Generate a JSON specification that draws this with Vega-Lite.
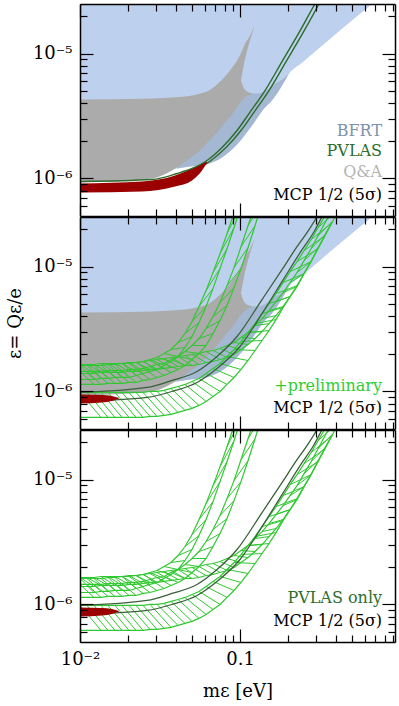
{
"$schema": "https://vega.github.io/schema/vega-lite/v6.json",
"padding": {"left": 6, "top": 3, "right": 5, "bottom": 0},
"spacing": -3,
"config": {"view": {"stroke": null}, "font": "DejaVu Serif"},
"datasets": {
"frame": [{"m": 0.1, "e": 1e-6}],
"lb": [
{"m":0.01,"lo":1.057e-6},{"m":0.02818,"lo":1.1e-6},{"m":0.04039,"lo":1.202e-6},{"m":0.05012,"lo":1.25e-6},{"m":0.0622,"lo":1.3e-6},{"m":0.07718,"lo":1.472e-6},{"m":0.09578,"lo":1.871e-6},{"m":0.1189,"lo":2.655e-6},{"m":0.1413,"lo":3.631e-6},{"m":0.1753,"lo":5.058e-6},{"m":0.2024,"lo":6.918e-6},{"m":0.2441,"lo":8.47e-6},{"m":0.3255,"lo":1.159e-5},{"m":0.434,"lo":1.585e-5},{"m":0.6683,"lo":2.5e-5}
],
"slate": [
{"m":0.04039,"lo":1.202e-6,"hi":1.675e-6},{"m":0.05012,"lo":1.25e-6,"hi":2.014e-6},{"m":0.0622,"lo":1.3e-6,"hi":2.421e-6},{"m":0.07718,"lo":1.472e-6,"hi":3.499e-6},{"m":0.09578,"lo":1.871e-6,"hi":4.207e-6},{"m":0.1189,"lo":2.655e-6,"hi":4.786e-6},{"m":0.1413,"lo":3.631e-6,"hi":4.966e-6},{"m":0.1585,"lo":4.207e-6,"hi":5.546e-6},{"m":0.1753,"lo":5.058e-6,"hi":6.081e-6},{"m":0.2024,"lo":6.918e-6,"hi":6.918e-6}
],
"gray": [
{"m":0.01,"lo":9.29e-7,"hi":4.285e-6},{"m":0.02818,"lo":1e-6,"hi":4.365e-6},{"m":0.03758,"lo":1.159e-6,"hi":4.446e-6},{"m":0.04531,"lo":1.355e-6,"hi":4.529e-6},{"m":0.05788,"lo":1.738e-6,"hi":4.831e-6},{"m":0.06401,"lo":1.995e-6,"hi":5.058e-6},{"m":0.07181,"lo":2.333e-6,"hi":5.649e-6},{"m":0.08058,"lo":2.805e-6,"hi":6.546e-6},{"m":0.08913,"lo":3.251e-6,"hi":7.727e-6},{"m":0.09578,"lo":3.698e-6,"hi":8.79e-6},{"m":0.1029,"lo":4.207e-6,"hi":1.057e-5},{"m":0.1075,"lo":4.446e-6,"hi":1.202e-5},{"m":0.1155,"lo":4.699e-6,"hi":1.393e-5},{"m":0.1223,"lo":4.786e-6,"hi":1.644e-5}
],
"notch": [
{"m":0.1014,"lo":6.081e-6,"hi":6.081e-6},{"m":0.1059,"lo":5.248e-6,"hi":8.318e-6},{"m":0.1138,"lo":4.875e-6,"hi":1.202e-5},{"m":0.1223,"lo":4.786e-6,"hi":1.644e-5},{"m":0.1296,"lo":4.786e-6,"hi":2.5e-5},{"m":0.1585,"lo":5.546e-6,"hi":2.5e-5},{"m":0.183,"lo":6.194e-6,"hi":2.5e-5},{"m":0.2024,"lo":6.918e-6,"hi":2.5e-5}
],
"red1": [
{"m":0.01,"lo":7.727e-7,"hi":9.12e-7},{"m":0.02441,"lo":7.87e-7,"hi":9.462e-7},{"m":0.03924,"lo":8.63e-7,"hi":1.057e-6},{"m":0.05012,"lo":9.638e-7,"hi":1.202e-6},{"m":0.05788,"lo":1.159e-6,"hi":1.318e-6},{"m":0.0622,"lo":1.343e-6,"hi":1.368e-6}
],
"red2": [
{"m":0.01,"lo":8.017e-7,"hi":9.462e-7},{"m":0.01372,"lo":8.166e-7,"hi":9.376e-7},{"m":0.01585,"lo":8.395e-7,"hi":9.204e-7},{"m":0.01753,"lo":8.79e-7,"hi":8.872e-7}
],
"P": [
{"s":"P1","m":0.01,"e":9.462e-7},{"s":"P1","m":0.02818,"e":9.817e-7},{"s":"P1","m":0.04039,"e":1.096e-6},{"s":"P1","m":0.05012,"e":1.202e-6},{"s":"P1","m":0.0622,"e":1.393e-6},{"s":"P1","m":0.07718,"e":1.77e-6},{"s":"P1","m":0.09578,"e":2.421e-6},{"s":"P1","m":0.1138,"e":3.311e-6},{"s":"P1","m":0.1433,"e":5.058e-6},{"s":"P1","m":0.183,"e":8.63e-6},{"s":"P1","m":0.2337,"e":1.472e-5},{"s":"P1","m":0.2943,"e":2.512e-5},{"s":"P1","m":0.3255,"e":3.133e-5},
{"s":"P2","m":0.01,"e":8.79e-7},{"s":"P2","m":0.02818,"e":9.12e-7},{"s":"P2","m":0.04039,"e":1.019e-6},{"s":"P2","m":0.05386,"e":1.18e-6},{"s":"P2","m":0.06588,"e":1.393e-6},{"s":"P2","m":0.08175,"e":1.77e-6},{"s":"P2","m":0.1014,"e":2.421e-6},{"s":"P2","m":0.1206,"e":3.311e-6},{"s":"P2","m":0.1517,"e":5.058e-6},{"s":"P2","m":0.1939,"e":8.63e-6},{"s":"P2","m":0.2477,"e":1.472e-5},{"s":"P2","m":0.3116,"e":2.512e-5},{"s":"P2","m":0.3398,"e":3.133e-5}
],
"Q": [
{"s":"Q1","m":0.01,"e":9.817e-7},{"s":"Q1","m":0.02623,"e":1.076e-6},{"s":"Q1","m":0.03758,"e":1.225e-6},{"s":"Q1","m":0.05386,"e":1.445e-6},{"s":"Q1","m":0.07181,"e":1.905e-6},{"s":"Q1","m":0.09578,"e":2.754e-6},{"s":"Q1","m":0.1373,"e":5.445e-6},{"s":"Q1","m":0.183,"e":9.462e-6},{"s":"Q1","m":0.2206,"e":1.368e-5},{"s":"Q1","m":0.2699,"e":1.977e-5},{"s":"Q1","m":0.3028,"e":2.512e-5},{"s":"Q1","m":0.335,"e":3.133e-5},
{"s":"Q2","m":0.01,"e":8.318e-7},{"s":"Q2","m":0.02623,"e":8.954e-7},{"s":"Q2","m":0.03758,"e":1e-6},{"s":"Q2","m":0.05386,"e":1.18e-6},{"s":"Q2","m":0.07181,"e":1.528e-6},{"s":"Q2","m":0.1,"e":2.291e-6},{"s":"Q2","m":0.1373,"e":4.207e-6},{"s":"Q2","m":0.183,"e":7.586e-6},{"s":"Q2","m":0.2441,"e":1.368e-5},{"s":"Q2","m":0.2901,"e":1.905e-5},{"s":"Q2","m":0.3255,"e":2.512e-5},{"s":"Q2","m":0.36,"e":3.133e-5}
],
"bands": [
{"b":"A","m":0.01,"lo":1.247e-6,"hi":1.614e-6},{"b":"A","m":0.01106,"lo":1.247e-6,"hi":1.614e-6},{"b":"A","m":0.01223,"lo":1.247e-6,"hi":1.614e-6},{"b":"A","m":0.01353,"lo":1.271e-6,"hi":1.614e-6},{"b":"A","m":0.01496,"lo":1.271e-6,"hi":1.644e-6},{"b":"A","m":0.01654,"lo":1.294e-6,"hi":1.644e-6},{"b":"A","m":0.0183,"lo":1.294e-6,"hi":1.675e-6},{"b":"A","m":0.02024,"lo":1.294e-6,"hi":1.675e-6},{"b":"A","m":0.02239,"lo":1.343e-6,"hi":1.706e-6},{"b":"A","m":0.02477,"lo":1.393e-6,"hi":1.738e-6},{"b":"A","m":0.02738,"lo":1.446e-6,"hi":1.803e-6},{"b":"A","m":0.03028,"lo":1.5e-6,"hi":1.871e-6},{"b":"A","m":0.0335,"lo":1.614e-6,"hi":2.014e-6},{"b":"A","m":0.03705,"lo":1.738e-6,"hi":2.168e-6},{"b":"A","m":0.04097,"lo":1.906e-6,"hi":2.466e-6},{"b":"A","m":0.04531,"lo":2.249e-6,"hi":2.911e-6},{"b":"A","m":0.05012,"lo":2.754e-6,"hi":3.631e-6},{"b":"A","m":0.05543,"lo":3.565e-6,"hi":4.787e-6},{"b":"A","m":0.06131,"lo":4.787e-6,"hi":6.427e-6},{"b":"A","m":0.0678,"lo":6.668e-6,"hi":8.954e-6},{"b":"A","m":0.07499,"lo":9.638e-6,"hi":1.271e-5},{"b":"A","m":0.08293,"lo":1.393e-5,"hi":1.837e-5},{"b":"A","m":0.09173,"lo":2.051e-5,"hi":2.704e-5},{"b":"A","m":0.1014,"lo":3.076e-5,"hi":3.981e-5},
{"b":"B","m":0.01,"lo":1.138e-6,"hi":1.446e-6},{"b":"B","m":0.01106,"lo":1.138e-6,"hi":1.446e-6},{"b":"B","m":0.01223,"lo":1.138e-6,"hi":1.446e-6},{"b":"B","m":0.01353,"lo":1.138e-6,"hi":1.446e-6},{"b":"B","m":0.01496,"lo":1.159e-6,"hi":1.472e-6},{"b":"B","m":0.01654,"lo":1.159e-6,"hi":1.472e-6},{"b":"B","m":0.0183,"lo":1.159e-6,"hi":1.472e-6},{"b":"B","m":0.02024,"lo":1.18e-6,"hi":1.5e-6},{"b":"B","m":0.02239,"lo":1.18e-6,"hi":1.5e-6},{"b":"B","m":0.02477,"lo":1.225e-6,"hi":1.528e-6},{"b":"B","m":0.02738,"lo":1.247e-6,"hi":1.585e-6},{"b":"B","m":0.03028,"lo":1.294e-6,"hi":1.644e-6},{"b":"B","m":0.0335,"lo":1.343e-6,"hi":1.675e-6},{"b":"B","m":0.03705,"lo":1.419e-6,"hi":1.803e-6},{"b":"B","m":0.04097,"lo":1.5e-6,"hi":1.906e-6},{"b":"B","m":0.04531,"lo":1.614e-6,"hi":2.089e-6},{"b":"B","m":0.05012,"lo":1.803e-6,"hi":2.334e-6},{"b":"B","m":0.05543,"lo":2.014e-6,"hi":2.655e-6},{"b":"B","m":0.06131,"lo":2.334e-6,"hi":3.192e-6},{"b":"B","m":0.0678,"lo":2.911e-6,"hi":3.981e-6},{"b":"B","m":0.07499,"lo":3.698e-6,"hi":5.153e-6},{"b":"B","m":0.08293,"lo":4.876e-6,"hi":7.047e-6},{"b":"B","m":0.09173,"lo":6.792e-6,"hi":9.817e-6},{"b":"B","m":0.1014,"lo":9.638e-6,"hi":1.445e-5},{"b":"B","m":0.1122,"lo":1.419e-5,"hi":2.128e-5},{"b":"B","m":0.1241,"lo":2.128e-5,"hi":3.133e-5},{"b":"B","m":0.1373,"lo":3.251e-5,"hi":4.614e-5},
{"b":"C","m":0.01,"lo":6.195e-7,"hi":9.817e-7},{"b":"C","m":0.01106,"lo":6.195e-7,"hi":9.817e-7},{"b":"C","m":0.01223,"lo":6.195e-7,"hi":9.817e-7},{"b":"C","m":0.01353,"lo":6.195e-7,"hi":9.817e-7},{"b":"C","m":0.01496,"lo":6.195e-7,"hi":9.817e-7},{"b":"C","m":0.01654,"lo":6.195e-7,"hi":9.817e-7},{"b":"C","m":0.0183,"lo":6.195e-7,"hi":9.817e-7},{"b":"C","m":0.02024,"lo":6.195e-7,"hi":9.817e-7},{"b":"C","m":0.02239,"lo":6.195e-7,"hi":9.817e-7},{"b":"C","m":0.02477,"lo":6.195e-7,"hi":9.817e-7},{"b":"C","m":0.02738,"lo":6.31e-7,"hi":1e-6},{"b":"C","m":0.03028,"lo":6.31e-7,"hi":1e-6},{"b":"C","m":0.0335,"lo":6.427e-7,"hi":1.019e-6},{"b":"C","m":0.03705,"lo":6.546e-7,"hi":1.057e-6},{"b":"C","m":0.04097,"lo":6.792e-7,"hi":1.096e-6},{"b":"C","m":0.04531,"lo":7.047e-7,"hi":1.138e-6},{"b":"C","m":0.05012,"lo":7.311e-7,"hi":1.202e-6},{"b":"C","m":0.05543,"lo":7.727e-7,"hi":1.271e-6},{"b":"C","m":0.06131,"lo":8.318e-7,"hi":1.393e-6},{"b":"C","m":0.0678,"lo":9.12e-7,"hi":1.528e-6},{"b":"C","m":0.07499,"lo":1e-6,"hi":1.675e-6},{"b":"C","m":0.08293,"lo":1.138e-6,"hi":1.906e-6},{"b":"C","m":0.09173,"lo":1.294e-6,"hi":2.168e-6},{"b":"C","m":0.1014,"lo":1.5e-6,"hi":2.512e-6},{"b":"C","m":0.1122,"lo":1.77e-6,"hi":2.965e-6},{"b":"C","m":0.1241,"lo":2.128e-6,"hi":3.499e-6},{"b":"C","m":0.1373,"lo":2.559e-6,"hi":4.207e-6},{"b":"C","m":0.1517,"lo":3.076e-6,"hi":5.059e-6},{"b":"C","m":0.1679,"lo":3.767e-6,"hi":6.082e-6},{"b":"C","m":0.1857,"lo":4.699e-6,"hi":7.447e-6},{"b":"C","m":0.2054,"lo":5.755e-6,"hi":9.12e-6},{"b":"C","m":0.2271,"lo":7.047e-6,"hi":1.097e-5},{"b":"C","m":0.2512,"lo":8.79e-6,"hi":1.343e-5},{"b":"C","m":0.2778,"lo":1.097e-5,"hi":1.644e-5},{"b":"C","m":0.3073,"lo":1.393e-5,"hi":2.051e-5},{"b":"C","m":0.3398,"lo":1.77e-5,"hi":2.559e-5},{"b":"C","m":0.3758,"lo":2.249e-5,"hi":3.191e-5},{"b":"C","m":0.4156,"lo":2.911e-5,"hi":3.981e-5},
{"b":"D","m":0.01,"lo":1.393e-6,"hi":1.644e-6},{"b":"D","m":0.01106,"lo":1.393e-6,"hi":1.644e-6},{"b":"D","m":0.01223,"lo":1.393e-6,"hi":1.644e-6},{"b":"D","m":0.01353,"lo":1.419e-6,"hi":1.675e-6},{"b":"D","m":0.01496,"lo":1.419e-6,"hi":1.675e-6},{"b":"D","m":0.01654,"lo":1.419e-6,"hi":1.675e-6},{"b":"D","m":0.0183,"lo":1.419e-6,"hi":1.675e-6},{"b":"D","m":0.02024,"lo":1.446e-6,"hi":1.706e-6},{"b":"D","m":0.02239,"lo":1.446e-6,"hi":1.706e-6},{"b":"D","m":0.02477,"lo":1.472e-6,"hi":1.738e-6},{"b":"D","m":0.02738,"lo":1.5e-6,"hi":1.77e-6},{"b":"D","m":0.03028,"lo":1.5e-6,"hi":1.803e-6},{"b":"D","m":0.0335,"lo":1.528e-6,"hi":1.837e-6},{"b":"D","m":0.03705,"lo":1.556e-6,"hi":1.871e-6},{"b":"D","m":0.04097,"lo":1.585e-6,"hi":1.906e-6},{"b":"D","m":0.04531,"lo":1.614e-6,"hi":1.941e-6},{"b":"D","m":0.05012,"lo":1.614e-6,"hi":1.977e-6},{"b":"D","m":0.05543,"lo":1.644e-6,"hi":2.014e-6},{"b":"D","m":0.06131,"lo":1.706e-6,"hi":2.089e-6},{"b":"D","m":0.0678,"lo":1.738e-6,"hi":2.128e-6},{"b":"D","m":0.07499,"lo":1.803e-6,"hi":2.208e-6},{"b":"D","m":0.08293,"lo":1.871e-6,"hi":2.334e-6},{"b":"D","m":0.09173,"lo":1.977e-6,"hi":2.466e-6},{"b":"D","m":0.1014,"lo":2.168e-6,"hi":2.704e-6},{"b":"D","m":0.1122,"lo":2.377e-6,"hi":2.965e-6},{"b":"D","m":0.1241,"lo":2.655e-6,"hi":3.373e-6},{"b":"D","m":0.1373,"lo":3.02e-6,"hi":3.837e-6},{"b":"D","m":0.1517,"lo":3.499e-6,"hi":4.447e-6},{"b":"D","m":0.1679,"lo":4.055e-6,"hi":5.249e-6},{"b":"D","m":0.1857,"lo":4.787e-6,"hi":6.195e-6},{"b":"D","m":0.2054,"lo":5.755e-6,"hi":7.447e-6},{"b":"D","m":0.2271,"lo":6.918e-6,"hi":8.954e-6},{"b":"D","m":0.2512,"lo":8.79e-6,"hi":1.117e-5},{"b":"D","m":0.2778,"lo":1.097e-5,"hi":1.393e-5},{"b":"D","m":0.3073,"lo":1.419e-5,"hi":1.77e-5},{"b":"D","m":0.3398,"lo":1.803e-5,"hi":2.249e-5},{"b":"D","m":0.3758,"lo":2.291e-5,"hi":2.858e-5}
],
"hatch": [
{"b":"A","m":0.01,"e":1.614e-6,"m2":0.01223,"e2":1.247e-6},{"b":"A","m":0.01106,"e":1.614e-6,"m2":0.01353,"e2":1.271e-6},{"b":"A","m":0.01223,"e":1.614e-6,"m2":0.01496,"e2":1.271e-6},{"b":"A","m":0.01353,"e":1.614e-6,"m2":0.01654,"e2":1.294e-6},{"b":"A","m":0.01496,"e":1.644e-6,"m2":0.0183,"e2":1.294e-6},{"b":"A","m":0.01654,"e":1.644e-6,"m2":0.02024,"e2":1.294e-6},{"b":"A","m":0.0183,"e":1.675e-6,"m2":0.02239,"e2":1.343e-6},{"b":"A","m":0.02024,"e":1.675e-6,"m2":0.02477,"e2":1.393e-6},{"b":"A","m":0.02239,"e":1.706e-6,"m2":0.02738,"e2":1.446e-6},{"b":"A","m":0.02477,"e":1.738e-6,"m2":0.03028,"e2":1.5e-6},{"b":"A","m":0.02738,"e":1.803e-6,"m2":0.0335,"e2":1.614e-6},{"b":"A","m":0.03028,"e":1.871e-6,"m2":0.03705,"e2":1.738e-6},{"b":"A","m":0.0335,"e":2.014e-6,"m2":0.04097,"e2":1.906e-6},{"b":"A","m":0.03705,"e":2.168e-6,"m2":0.04531,"e2":2.249e-6},{"b":"A","m":0.04097,"e":2.466e-6,"m2":0.05012,"e2":2.754e-6},{"b":"A","m":0.04531,"e":2.911e-6,"m2":0.05543,"e2":3.565e-6},{"b":"A","m":0.05012,"e":3.631e-6,"m2":0.06131,"e2":4.787e-6},{"b":"A","m":0.05543,"e":4.787e-6,"m2":0.0678,"e2":6.668e-6},{"b":"A","m":0.06131,"e":6.427e-6,"m2":0.07499,"e2":9.638e-6},{"b":"A","m":0.0678,"e":8.954e-6,"m2":0.08293,"e2":1.393e-5},{"b":"A","m":0.07499,"e":1.271e-5,"m2":0.09173,"e2":2.051e-5},{"b":"A","m":0.08293,"e":1.837e-5,"m2":0.1014,"e2":3.076e-5},
{"b":"B","m":0.01,"e":1.446e-6,"m2":0.01223,"e2":1.138e-6},{"b":"B","m":0.01106,"e":1.446e-6,"m2":0.01353,"e2":1.138e-6},{"b":"B","m":0.01223,"e":1.446e-6,"m2":0.01496,"e2":1.159e-6},{"b":"B","m":0.01353,"e":1.446e-6,"m2":0.01654,"e2":1.159e-6},{"b":"B","m":0.01496,"e":1.472e-6,"m2":0.0183,"e2":1.159e-6},{"b":"B","m":0.01654,"e":1.472e-6,"m2":0.02024,"e2":1.18e-6},{"b":"B","m":0.0183,"e":1.472e-6,"m2":0.02239,"e2":1.18e-6},{"b":"B","m":0.02024,"e":1.5e-6,"m2":0.02477,"e2":1.225e-6},{"b":"B","m":0.02239,"e":1.5e-6,"m2":0.02738,"e2":1.247e-6},{"b":"B","m":0.02477,"e":1.528e-6,"m2":0.03028,"e2":1.294e-6},{"b":"B","m":0.02738,"e":1.585e-6,"m2":0.0335,"e2":1.343e-6},{"b":"B","m":0.03028,"e":1.644e-6,"m2":0.03705,"e2":1.419e-6},{"b":"B","m":0.0335,"e":1.675e-6,"m2":0.04097,"e2":1.5e-6},{"b":"B","m":0.03705,"e":1.803e-6,"m2":0.04531,"e2":1.614e-6},{"b":"B","m":0.04097,"e":1.906e-6,"m2":0.05012,"e2":1.803e-6},{"b":"B","m":0.04531,"e":2.089e-6,"m2":0.05543,"e2":2.014e-6},{"b":"B","m":0.05012,"e":2.334e-6,"m2":0.06131,"e2":2.334e-6},{"b":"B","m":0.05543,"e":2.655e-6,"m2":0.0678,"e2":2.911e-6},{"b":"B","m":0.06131,"e":3.192e-6,"m2":0.07499,"e2":3.698e-6},{"b":"B","m":0.0678,"e":3.981e-6,"m2":0.08293,"e2":4.876e-6},{"b":"B","m":0.07499,"e":5.153e-6,"m2":0.09173,"e2":6.792e-6},{"b":"B","m":0.08293,"e":7.047e-6,"m2":0.1014,"e2":9.638e-6},{"b":"B","m":0.09173,"e":9.817e-6,"m2":0.1122,"e2":1.419e-5},{"b":"B","m":0.1014,"e":1.445e-5,"m2":0.1241,"e2":2.128e-5},{"b":"B","m":0.1122,"e":2.128e-5,"m2":0.1373,"e2":3.251e-5},
{"b":"C","m":0.01,"e":9.817e-7,"m2":0.01353,"e2":6.195e-7},{"b":"C","m":0.01106,"e":9.817e-7,"m2":0.01496,"e2":6.195e-7},{"b":"C","m":0.01223,"e":9.817e-7,"m2":0.01654,"e2":6.195e-7},{"b":"C","m":0.01353,"e":9.817e-7,"m2":0.0183,"e2":6.195e-7},{"b":"C","m":0.01496,"e":9.817e-7,"m2":0.02024,"e2":6.195e-7},{"b":"C","m":0.01654,"e":9.817e-7,"m2":0.02239,"e2":6.195e-7},{"b":"C","m":0.0183,"e":9.817e-7,"m2":0.02477,"e2":6.195e-7},{"b":"C","m":0.02024,"e":9.817e-7,"m2":0.02738,"e2":6.31e-7},{"b":"C","m":0.02239,"e":9.817e-7,"m2":0.03028,"e2":6.31e-7},{"b":"C","m":0.02477,"e":9.817e-7,"m2":0.0335,"e2":6.427e-7},{"b":"C","m":0.02738,"e":1e-6,"m2":0.03705,"e2":6.546e-7},{"b":"C","m":0.03028,"e":1e-6,"m2":0.04097,"e2":6.792e-7},{"b":"C","m":0.0335,"e":1.019e-6,"m2":0.04531,"e2":7.047e-7},{"b":"C","m":0.03705,"e":1.057e-6,"m2":0.05012,"e2":7.311e-7},{"b":"C","m":0.04097,"e":1.096e-6,"m2":0.05543,"e2":7.727e-7},{"b":"C","m":0.04531,"e":1.138e-6,"m2":0.06131,"e2":8.318e-7},{"b":"C","m":0.05012,"e":1.202e-6,"m2":0.0678,"e2":9.12e-7},{"b":"C","m":0.05543,"e":1.271e-6,"m2":0.07499,"e2":1e-6},{"b":"C","m":0.06131,"e":1.393e-6,"m2":0.08293,"e2":1.138e-6},{"b":"C","m":0.0678,"e":1.528e-6,"m2":0.09173,"e2":1.294e-6},{"b":"C","m":0.07499,"e":1.675e-6,"m2":0.1014,"e2":1.5e-6},{"b":"C","m":0.08293,"e":1.906e-6,"m2":0.1122,"e2":1.77e-6},{"b":"C","m":0.09173,"e":2.168e-6,"m2":0.1241,"e2":2.128e-6},{"b":"C","m":0.1014,"e":2.512e-6,"m2":0.1373,"e2":2.559e-6},{"b":"C","m":0.1122,"e":2.965e-6,"m2":0.1517,"e2":3.076e-6},{"b":"C","m":0.1241,"e":3.499e-6,"m2":0.1679,"e2":3.767e-6},{"b":"C","m":0.1373,"e":4.207e-6,"m2":0.1857,"e2":4.699e-6},{"b":"C","m":0.1517,"e":5.059e-6,"m2":0.2054,"e2":5.755e-6},{"b":"C","m":0.1679,"e":6.082e-6,"m2":0.2271,"e2":7.047e-6},{"b":"C","m":0.1857,"e":7.447e-6,"m2":0.2512,"e2":8.79e-6},{"b":"C","m":0.2054,"e":9.12e-6,"m2":0.2778,"e2":1.097e-5},{"b":"C","m":0.2271,"e":1.097e-5,"m2":0.3073,"e2":1.393e-5},{"b":"C","m":0.2512,"e":1.343e-5,"m2":0.3398,"e2":1.77e-5},{"b":"C","m":0.2778,"e":1.644e-5,"m2":0.3758,"e2":2.249e-5},{"b":"C","m":0.3073,"e":2.051e-5,"m2":0.4156,"e2":2.911e-5},
{"b":"D","m":0.01,"e":1.644e-6,"m2":0.01223,"e2":1.393e-6},{"b":"D","m":0.01106,"e":1.644e-6,"m2":0.01353,"e2":1.419e-6},{"b":"D","m":0.01223,"e":1.644e-6,"m2":0.01496,"e2":1.419e-6},{"b":"D","m":0.01353,"e":1.675e-6,"m2":0.01654,"e2":1.419e-6},{"b":"D","m":0.01496,"e":1.675e-6,"m2":0.0183,"e2":1.419e-6},{"b":"D","m":0.01654,"e":1.675e-6,"m2":0.02024,"e2":1.446e-6},{"b":"D","m":0.0183,"e":1.675e-6,"m2":0.02239,"e2":1.446e-6},{"b":"D","m":0.02024,"e":1.706e-6,"m2":0.02477,"e2":1.472e-6},{"b":"D","m":0.02239,"e":1.706e-6,"m2":0.02738,"e2":1.5e-6},{"b":"D","m":0.02477,"e":1.738e-6,"m2":0.03028,"e2":1.5e-6},{"b":"D","m":0.02738,"e":1.77e-6,"m2":0.0335,"e2":1.528e-6},{"b":"D","m":0.03028,"e":1.803e-6,"m2":0.03705,"e2":1.556e-6},{"b":"D","m":0.0335,"e":1.837e-6,"m2":0.04097,"e2":1.585e-6},{"b":"D","m":0.03705,"e":1.871e-6,"m2":0.04531,"e2":1.614e-6},{"b":"D","m":0.04097,"e":1.906e-6,"m2":0.05012,"e2":1.614e-6},{"b":"D","m":0.04531,"e":1.941e-6,"m2":0.05543,"e2":1.644e-6},{"b":"D","m":0.05012,"e":1.977e-6,"m2":0.06131,"e2":1.706e-6},{"b":"D","m":0.05543,"e":2.014e-6,"m2":0.0678,"e2":1.738e-6},{"b":"D","m":0.06131,"e":2.089e-6,"m2":0.07499,"e2":1.803e-6},{"b":"D","m":0.0678,"e":2.128e-6,"m2":0.08293,"e2":1.871e-6},{"b":"D","m":0.07499,"e":2.208e-6,"m2":0.09173,"e2":1.977e-6},{"b":"D","m":0.08293,"e":2.334e-6,"m2":0.1014,"e2":2.168e-6},{"b":"D","m":0.09173,"e":2.466e-6,"m2":0.1122,"e2":2.377e-6},{"b":"D","m":0.1014,"e":2.704e-6,"m2":0.1241,"e2":2.655e-6},{"b":"D","m":0.1122,"e":2.965e-6,"m2":0.1373,"e2":3.02e-6},{"b":"D","m":0.1241,"e":3.373e-6,"m2":0.1517,"e2":3.499e-6},{"b":"D","m":0.1373,"e":3.837e-6,"m2":0.1679,"e2":4.055e-6},{"b":"D","m":0.1517,"e":4.447e-6,"m2":0.1857,"e2":4.787e-6},{"b":"D","m":0.1679,"e":5.249e-6,"m2":0.2054,"e2":5.755e-6},{"b":"D","m":0.1857,"e":6.195e-6,"m2":0.2271,"e2":6.918e-6},{"b":"D","m":0.2054,"e":7.447e-6,"m2":0.2512,"e2":8.79e-6},{"b":"D","m":0.2271,"e":8.954e-6,"m2":0.2778,"e2":1.097e-5},{"b":"D","m":0.2512,"e":1.117e-5,"m2":0.3073,"e2":1.419e-5},{"b":"D","m":0.2778,"e":1.393e-5,"m2":0.3398,"e2":1.803e-5},{"b":"D","m":0.3073,"e":1.77e-5,"m2":0.3758,"e2":2.291e-5}
],
"t1": [{"label":"BFRT","m":0.772,"e":2.421e-6},{"label":"PVLAS","m":0.772,"e":1.644e-6},{"label":"Q&A","m":0.772,"e":1.117e-6},{"label":"MCP 1/2 (5σ)","m":0.772,"e":7.31e-7}],
"t2": [{"label":"+preliminary","m":0.772,"e":1.096e-6},{"label":"MCP 1/2 (5σ)","m":0.772,"e":7.31e-7}],
"t3": [{"label":"PVLAS only","m":0.772,"e":1.117e-6},{"label":"MCP 1/2 (5σ)","m":0.772,"e":7.31e-7}]
},
"vconcat": [
{
"width": 315, "height": 212,
"resolve": {"axis": {"x": "independent", "y": "independent"}},
"encoding": {"x": {"field": "m", "type": "quantitative", "scale": {"type": "log", "domain": [0.01, 0.93], "nice": false}, "axis": null}},
"layer": [
{"data": {"name": "lb"}, "mark": {"type": "area", "color": "#bdd1ee", "clip": true, "interpolate": "monotone"}, "encoding": {"y": {"field": "lo", "type": "quantitative", "scale": {"type": "log", "domain": [5e-7, 2.5e-5], "nice": false}, "axis": null}, "y2": {"datum": 2.5e-5}}},
{"data": {"name": "slate"}, "mark": {"type": "area", "color": "#a5b8d3", "clip": true, "interpolate": "monotone"}, "encoding": {"y": {"field": "lo", "type": "quantitative", "scale": {"type": "log", "domain": [5e-7, 2.5e-5], "nice": false}, "axis": null}, "y2": {"field": "hi"}}},
{"data": {"name": "gray"}, "mark": {"type": "area", "color": "#ababab", "clip": true, "interpolate": "monotone"}, "encoding": {"y": {"field": "lo", "type": "quantitative", "scale": {"type": "log", "domain": [5e-7, 2.5e-5], "nice": false}, "axis": null}, "y2": {"field": "hi"}}},
{"data": {"name": "notch"}, "mark": {"type": "area", "color": "#bdd1ee", "clip": true, "interpolate": "monotone"}, "encoding": {"y": {"field": "lo", "type": "quantitative", "scale": {"type": "log", "domain": [5e-7, 2.5e-5], "nice": false}, "axis": null}, "y2": {"field": "hi"}}},
{"data": {"name": "P"}, "transform": [{"filter": "datum.s == 'P2'"}], "mark": {"type": "line", "color": "#2b6b2b", "strokeWidth": 1.4, "clip": true, "interpolate": "monotone"}, "encoding": {"y": {"field": "e", "type": "quantitative", "scale": {"type": "log", "domain": [5e-7, 2.5e-5], "nice": false}, "axis": null}}},
{"data": {"name": "red1"}, "mark": {"type": "area", "color": "#9b0000", "clip": true, "interpolate": "monotone"}, "encoding": {"y": {"field": "lo", "type": "quantitative", "scale": {"type": "log", "domain": [5e-7, 2.5e-5], "nice": false}, "axis": null}, "y2": {"field": "hi"}}},
{"data": {"name": "P"}, "transform": [{"filter": "datum.s == 'P1'"}], "mark": {"type": "line", "color": "#2b6b2b", "strokeWidth": 1.4, "clip": true, "interpolate": "monotone"}, "encoding": {"y": {"field": "e", "type": "quantitative", "scale": {"type": "log", "domain": [5e-7, 2.5e-5], "nice": false}, "axis": null}}},
{"data": {"name": "t1"}, "mark": {"type": "text", "align": "right", "baseline": "middle", "font": "DejaVu Serif", "fontSize": 16}, "encoding": {"y": {"field": "e", "type": "quantitative", "scale": {"type": "log", "domain": [5e-7, 2.5e-5], "nice": false}, "axis": null}, "text": {"field": "label"}, "color": {"field": "label", "type": "nominal", "scale": {"domain": ["BFRT", "PVLAS", "Q&A", "MCP 1/2 (5σ)", "+preliminary", "PVLAS only"], "range": ["#7d91ad", "#2e6e2e", "#b4b4b4", "#000000", "#33cc33", "#2e6e2e"]}, "legend": null}}},
{"data": {"name": "frame"}, "mark": {"type": "point", "opacity": 0}, "encoding": {
"x": {"field": "m", "type": "quantitative", "scale": {"type": "log", "domain": [0.01, 0.93], "nice": false}, "axis": {"orient": "bottom", "values": [0.01,0.02,0.03,0.04,0.05,0.06,0.07,0.08,0.09,0.1,0.2,0.3,0.4,0.5,0.6,0.7,0.8,0.9], "labels": false, "title": null, "grid": false, "tickSize": {"condition": {"test": "datum.value == 0.01 || datum.value == 0.1", "value": -13}, "value": -7}, "domainColor": "#000", "domainWidth": 1.5, "tickColor": "#000", "tickWidth": 1.2, "zindex": 3}},
"y": {"field": "e", "type": "quantitative", "scale": {"type": "log", "domain": [5e-7, 2.5e-5], "nice": false}, "axis": {"orient": "left", "values": [6e-7,7e-7,8e-7,9e-7,1e-6,2e-6,3e-6,4e-6,5e-6,6e-6,7e-6,8e-6,9e-6,1e-5,2e-5], "labelExpr": "datum.value == 1e-5 ? '10⁻⁵' : datum.value == 1e-6 ? '10⁻⁶' : ''", "labelPadding": 21, "labelFont": "DejaVu Serif", "labelFontSize": 18, "labelColor": "#000", "labelOverlap": false, "labelBound": false, "labelFlush": false, "title": null, "grid": false, "tickSize": {"condition": {"test": "datum.value == 1e-6 || datum.value == 1e-5", "value": -13}, "value": -7}, "domainColor": "#000", "domainWidth": 1.5, "tickColor": "#000", "tickWidth": 1.2, "zindex": 3}}}},
{"data": {"name": "frame"}, "mark": {"type": "point", "opacity": 0}, "encoding": {
"x": {"field": "m", "type": "quantitative", "scale": {"type": "log", "domain": [0.01, 0.93], "nice": false}, "axis": {"orient": "top", "values": [0.01,0.02,0.03,0.04,0.05,0.06,0.07,0.08,0.09,0.1,0.2,0.3,0.4,0.5,0.6,0.7,0.8,0.9], "labels": false, "title": null, "grid": false, "tickSize": {"condition": {"test": "datum.value == 0.01 || datum.value == 0.1", "value": -13}, "value": -7}, "domainColor": "#000", "domainWidth": 1.5, "tickColor": "#000", "tickWidth": 1.2, "zindex": 3}},
"y": {"field": "e", "type": "quantitative", "scale": {"type": "log", "domain": [5e-7, 2.5e-5], "nice": false}, "axis": {"orient": "right", "values": [6e-7,7e-7,8e-7,9e-7,1e-6,2e-6,3e-6,4e-6,5e-6,6e-6,7e-6,8e-6,9e-6,1e-5,2e-5], "labels": false, "title": null, "grid": false, "tickSize": {"condition": {"test": "datum.value == 1e-6 || datum.value == 1e-5", "value": -13}, "value": -7}, "domainColor": "#000", "domainWidth": 1.5, "tickColor": "#000", "tickWidth": 1.2, "zindex": 3}}}}
]
},
{
"width": 315, "height": 212,
"resolve": {"axis": {"x": "independent", "y": "independent"}},
"encoding": {"x": {"field": "m", "type": "quantitative", "scale": {"type": "log", "domain": [0.01, 0.93], "nice": false}, "axis": null}},
"layer": [
{"data": {"name": "lb"}, "mark": {"type": "area", "color": "#bdd1ee", "clip": true, "interpolate": "monotone"}, "encoding": {"y": {"field": "lo", "type": "quantitative", "scale": {"type": "log", "domain": [5e-7, 2.5e-5], "nice": false}, "axis": null}, "y2": {"datum": 2.5e-5}}},
{"data": {"name": "slate"}, "mark": {"type": "area", "color": "#a5b8d3", "clip": true, "interpolate": "monotone"}, "encoding": {"y": {"field": "lo", "type": "quantitative", "scale": {"type": "log", "domain": [5e-7, 2.5e-5], "nice": false}, "axis": null}, "y2": {"field": "hi"}}},
{"data": {"name": "gray"}, "mark": {"type": "area", "color": "#ababab", "clip": true, "interpolate": "monotone"}, "encoding": {"y": {"field": "lo", "type": "quantitative", "scale": {"type": "log", "domain": [5e-7, 2.5e-5], "nice": false}, "axis": null}, "y2": {"field": "hi"}}},
{"data": {"name": "notch"}, "mark": {"type": "area", "color": "#bdd1ee", "clip": true, "interpolate": "monotone"}, "encoding": {"y": {"field": "lo", "type": "quantitative", "scale": {"type": "log", "domain": [5e-7, 2.5e-5], "nice": false}, "axis": null}, "y2": {"field": "hi"}}},
{"data": {"name": "hatch"}, "mark": {"type": "rule", "color": "#30c830", "strokeWidth": 1, "clip": true}, "encoding": {"x2": {"field": "m2"}, "y": {"field": "e", "type": "quantitative", "scale": {"type": "log", "domain": [5e-7, 2.5e-5], "nice": false}, "axis": null}, "y2": {"field": "e2"}}},
{"data": {"name": "bands"}, "mark": {"type": "line", "color": "#30c830", "strokeWidth": 1.2, "clip": true}, "encoding": {"detail": {"field": "b"}, "y": {"field": "hi", "type": "quantitative", "scale": {"type": "log", "domain": [5e-7, 2.5e-5], "nice": false}, "axis": null}}},
{"data": {"name": "bands"}, "mark": {"type": "line", "color": "#30c830", "strokeWidth": 1.2, "clip": true}, "encoding": {"detail": {"field": "b"}, "y": {"field": "lo", "type": "quantitative", "scale": {"type": "log", "domain": [5e-7, 2.5e-5], "nice": false}, "axis": null}}},
{"data": {"name": "Q"}, "mark": {"type": "line", "color": "#3a603a", "strokeWidth": 1.3, "clip": true, "interpolate": "monotone"}, "encoding": {"detail": {"field": "s"}, "y": {"field": "e", "type": "quantitative", "scale": {"type": "log", "domain": [5e-7, 2.5e-5], "nice": false}, "axis": null}}},
{"data": {"name": "red2"}, "mark": {"type": "area", "color": "#9b0000", "clip": true, "interpolate": "monotone"}, "encoding": {"y": {"field": "lo", "type": "quantitative", "scale": {"type": "log", "domain": [5e-7, 2.5e-5], "nice": false}, "axis": null}, "y2": {"field": "hi"}}},
{"data": {"name": "t2"}, "mark": {"type": "text", "align": "right", "baseline": "middle", "font": "DejaVu Serif", "fontSize": 16}, "encoding": {"y": {"field": "e", "type": "quantitative", "scale": {"type": "log", "domain": [5e-7, 2.5e-5], "nice": false}, "axis": null}, "text": {"field": "label"}, "color": {"field": "label", "type": "nominal", "scale": {"domain": ["BFRT", "PVLAS", "Q&A", "MCP 1/2 (5σ)", "+preliminary", "PVLAS only"], "range": ["#7d91ad", "#2e6e2e", "#b4b4b4", "#000000", "#33cc33", "#2e6e2e"]}, "legend": null}}},
{"data": {"name": "frame"}, "mark": {"type": "point", "opacity": 0}, "encoding": {
"x": {"field": "m", "type": "quantitative", "scale": {"type": "log", "domain": [0.01, 0.93], "nice": false}, "axis": {"orient": "bottom", "values": [0.01,0.02,0.03,0.04,0.05,0.06,0.07,0.08,0.09,0.1,0.2,0.3,0.4,0.5,0.6,0.7,0.8,0.9], "labels": false, "title": null, "grid": false, "tickSize": {"condition": {"test": "datum.value == 0.01 || datum.value == 0.1", "value": -13}, "value": -7}, "domainColor": "#000", "domainWidth": 1.5, "tickColor": "#000", "tickWidth": 1.2, "zindex": 3}},
"y": {"field": "e", "type": "quantitative", "scale": {"type": "log", "domain": [5e-7, 2.5e-5], "nice": false}, "axis": {"orient": "left", "values": [6e-7,7e-7,8e-7,9e-7,1e-6,2e-6,3e-6,4e-6,5e-6,6e-6,7e-6,8e-6,9e-6,1e-5,2e-5], "labelExpr": "datum.value == 1e-5 ? '10⁻⁵' : datum.value == 1e-6 ? '10⁻⁶' : ''", "labelPadding": 21, "labelFont": "DejaVu Serif", "labelFontSize": 18, "labelColor": "#000", "labelOverlap": false, "labelBound": false, "labelFlush": false, "title": "ε= Qε/e", "titleFont": "DejaVu Serif", "titleFontSize": 18, "titleFontWeight": "normal", "titleColor": "#000", "titlePadding": 8, "grid": false, "tickSize": {"condition": {"test": "datum.value == 1e-6 || datum.value == 1e-5", "value": -13}, "value": -7}, "domainColor": "#000", "domainWidth": 1.5, "tickColor": "#000", "tickWidth": 1.2, "zindex": 3}}}},
{"data": {"name": "frame"}, "mark": {"type": "point", "opacity": 0}, "encoding": {
"x": {"field": "m", "type": "quantitative", "scale": {"type": "log", "domain": [0.01, 0.93], "nice": false}, "axis": {"orient": "top", "values": [0.01,0.02,0.03,0.04,0.05,0.06,0.07,0.08,0.09,0.1,0.2,0.3,0.4,0.5,0.6,0.7,0.8,0.9], "labels": false, "title": null, "grid": false, "tickSize": {"condition": {"test": "datum.value == 0.01 || datum.value == 0.1", "value": -13}, "value": -7}, "domainColor": "#000", "domainWidth": 1.5, "tickColor": "#000", "tickWidth": 1.2, "zindex": 3}},
"y": {"field": "e", "type": "quantitative", "scale": {"type": "log", "domain": [5e-7, 2.5e-5], "nice": false}, "axis": {"orient": "right", "values": [6e-7,7e-7,8e-7,9e-7,1e-6,2e-6,3e-6,4e-6,5e-6,6e-6,7e-6,8e-6,9e-6,1e-5,2e-5], "labels": false, "title": null, "grid": false, "tickSize": {"condition": {"test": "datum.value == 1e-6 || datum.value == 1e-5", "value": -13}, "value": -7}, "domainColor": "#000", "domainWidth": 1.5, "tickColor": "#000", "tickWidth": 1.2, "zindex": 3}}}}
]
},
{
"width": 315, "height": 212,
"resolve": {"axis": {"x": "independent", "y": "independent"}},
"encoding": {"x": {"field": "m", "type": "quantitative", "scale": {"type": "log", "domain": [0.01, 0.93], "nice": false}, "axis": null}},
"layer": [
{"data": {"name": "hatch"}, "mark": {"type": "rule", "color": "#30c830", "strokeWidth": 1, "clip": true}, "encoding": {"x2": {"field": "m2"}, "y": {"field": "e", "type": "quantitative", "scale": {"type": "log", "domain": [5e-7, 2.5e-5], "nice": false}, "axis": null}, "y2": {"field": "e2"}}},
{"data": {"name": "bands"}, "mark": {"type": "line", "color": "#30c830", "strokeWidth": 1.2, "clip": true}, "encoding": {"detail": {"field": "b"}, "y": {"field": "hi", "type": "quantitative", "scale": {"type": "log", "domain": [5e-7, 2.5e-5], "nice": false}, "axis": null}}},
{"data": {"name": "bands"}, "mark": {"type": "line", "color": "#30c830", "strokeWidth": 1.2, "clip": true}, "encoding": {"detail": {"field": "b"}, "y": {"field": "lo", "type": "quantitative", "scale": {"type": "log", "domain": [5e-7, 2.5e-5], "nice": false}, "axis": null}}},
{"data": {"name": "Q"}, "mark": {"type": "line", "color": "#3a603a", "strokeWidth": 1.3, "clip": true, "interpolate": "monotone"}, "encoding": {"detail": {"field": "s"}, "y": {"field": "e", "type": "quantitative", "scale": {"type": "log", "domain": [5e-7, 2.5e-5], "nice": false}, "axis": null}}},
{"data": {"name": "red2"}, "mark": {"type": "area", "color": "#9b0000", "clip": true, "interpolate": "monotone"}, "encoding": {"y": {"field": "lo", "type": "quantitative", "scale": {"type": "log", "domain": [5e-7, 2.5e-5], "nice": false}, "axis": null}, "y2": {"field": "hi"}}},
{"data": {"name": "t3"}, "mark": {"type": "text", "align": "right", "baseline": "middle", "font": "DejaVu Serif", "fontSize": 16}, "encoding": {"y": {"field": "e", "type": "quantitative", "scale": {"type": "log", "domain": [5e-7, 2.5e-5], "nice": false}, "axis": null}, "text": {"field": "label"}, "color": {"field": "label", "type": "nominal", "scale": {"domain": ["BFRT", "PVLAS", "Q&A", "MCP 1/2 (5σ)", "+preliminary", "PVLAS only"], "range": ["#7d91ad", "#2e6e2e", "#b4b4b4", "#000000", "#33cc33", "#2e6e2e"]}, "legend": null}}},
{"data": {"name": "frame"}, "mark": {"type": "point", "opacity": 0}, "encoding": {
"x": {"field": "m", "type": "quantitative", "scale": {"type": "log", "domain": [0.01, 0.93], "nice": false}, "axis": {"orient": "bottom", "values": [0.01,0.02,0.03,0.04,0.05,0.06,0.07,0.08,0.09,0.1,0.2,0.3,0.4,0.5,0.6,0.7,0.8,0.9], "labelExpr": "datum.value == 0.01 ? '10⁻²' : datum.value == 0.1 ? '0.1' : ''", "labelPadding": 21, "labelFont": "DejaVu Serif", "labelFontSize": 18, "labelColor": "#000", "labelOverlap": false, "labelBound": false, "labelFlush": false, "title": "mε [eV]", "titleFont": "DejaVu Serif", "titleFontSize": 18, "titleFontWeight": "normal", "titleColor": "#000", "titlePadding": 8, "grid": false, "tickSize": {"condition": {"test": "datum.value == 0.01 || datum.value == 0.1", "value": -13}, "value": -7}, "domainColor": "#000", "domainWidth": 1.5, "tickColor": "#000", "tickWidth": 1.2, "zindex": 3}},
"y": {"field": "e", "type": "quantitative", "scale": {"type": "log", "domain": [5e-7, 2.5e-5], "nice": false}, "axis": {"orient": "left", "values": [6e-7,7e-7,8e-7,9e-7,1e-6,2e-6,3e-6,4e-6,5e-6,6e-6,7e-6,8e-6,9e-6,1e-5,2e-5], "labelExpr": "datum.value == 1e-5 ? '10⁻⁵' : datum.value == 1e-6 ? '10⁻⁶' : ''", "labelPadding": 21, "labelFont": "DejaVu Serif", "labelFontSize": 18, "labelColor": "#000", "labelOverlap": false, "labelBound": false, "labelFlush": false, "title": null, "grid": false, "tickSize": {"condition": {"test": "datum.value == 1e-6 || datum.value == 1e-5", "value": -13}, "value": -7}, "domainColor": "#000", "domainWidth": 1.5, "tickColor": "#000", "tickWidth": 1.2, "zindex": 3}}}},
{"data": {"name": "frame"}, "mark": {"type": "point", "opacity": 0}, "encoding": {
"x": {"field": "m", "type": "quantitative", "scale": {"type": "log", "domain": [0.01, 0.93], "nice": false}, "axis": {"orient": "top", "values": [0.01,0.02,0.03,0.04,0.05,0.06,0.07,0.08,0.09,0.1,0.2,0.3,0.4,0.5,0.6,0.7,0.8,0.9], "labels": false, "title": null, "grid": false, "tickSize": {"condition": {"test": "datum.value == 0.01 || datum.value == 0.1", "value": -13}, "value": -7}, "domainColor": "#000", "domainWidth": 1.5, "tickColor": "#000", "tickWidth": 1.2, "zindex": 3}},
"y": {"field": "e", "type": "quantitative", "scale": {"type": "log", "domain": [5e-7, 2.5e-5], "nice": false}, "axis": {"orient": "right", "values": [6e-7,7e-7,8e-7,9e-7,1e-6,2e-6,3e-6,4e-6,5e-6,6e-6,7e-6,8e-6,9e-6,1e-5,2e-5], "labels": false, "title": null, "grid": false, "tickSize": {"condition": {"test": "datum.value == 1e-6 || datum.value == 1e-5", "value": -13}, "value": -7}, "domainColor": "#000", "domainWidth": 1.5, "tickColor": "#000", "tickWidth": 1.2, "zindex": 3}}}}
]
}
]
}
